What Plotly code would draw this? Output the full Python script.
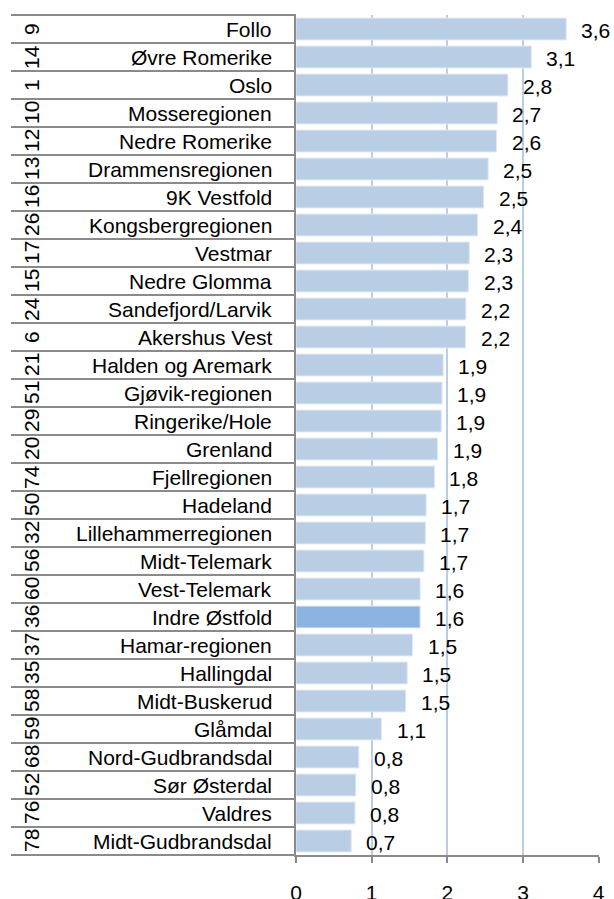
import plotly.graph_objects as go

regions = ["Follo", "Øvre Romerike", "Oslo", "Mosseregionen", "Nedre Romerike",
           "Drammensregionen", "9K Vestfold", "Kongsbergregionen", "Vestmar", "Nedre Glomma",
           "Sandefjord/Larvik", "Akershus Vest", "Halden og Aremark", "Gjøvik-regionen",
           "Ringerike/Hole", "Grenland", "Fjellregionen", "Hadeland", "Lillehammerregionen",
           "Midt-Telemark", "Vest-Telemark", "Indre Østfold", "Hamar-regionen", "Hallingdal",
           "Midt-Buskerud", "Glåmdal", "Nord-Gudbrandsdal", "Sør Østerdal", "Valdres",
           "Midt-Gudbrandsdal"]
ranks = ["9", "14", "1", "10", "12", "13", "16", "26", "17", "15", "24", "6", "21", "51", "29",
         "20", "74", "50", "32", "56", "60", "36", "37", "35", "58", "59", "68", "52", "76", "78"]
values = [3.57, 3.11, 2.80, 2.66, 2.65, 2.54, 2.48, 2.40, 2.29, 2.28, 2.245, 2.24, 1.945, 1.93,
          1.92, 1.87, 1.83, 1.72, 1.71, 1.69, 1.64, 1.64, 1.54, 1.47, 1.45, 1.13, 0.83, 0.79,
          0.78, 0.73]
value_labels = ["3,6", "3,1", "2,8", "2,7", "2,6", "2,5", "2,5", "2,4", "2,3", "2,3", "2,2", "2,2",
                "1,9", "1,9", "1,9", "1,9", "1,8", "1,7", "1,7", "1,7", "1,6", "1,6", "1,5", "1,5",
                "1,5", "1,1", "0,8", "0,8", "0,8", "0,7"]
highlight = "Indre Østfold"
x_ticks = [0, 1, 2, 3, 4]

W, H = 614, 899
ML, MR, MT, MB = 296, 15, 15, 44
plot_w = W - ML - MR
n = len(regions)
FONT = "Liberation Sans, Arial, sans-serif"
GRAY = "#8a8a8a"

ypos = list(range(n))
colors = ["#8DB3E2" if r == highlight else "#B9CDE5" for r in regions]

fig = go.Figure()
fig.add_trace(go.Bar(
    x=values, y=ypos, orientation="h", width=0.78,
    marker=dict(color=colors, line=dict(color="#dfe8f3", width=1)),
    hoverinfo="skip", showlegend=False,
))

annotations = []
for i, (r, rk, v, lab) in enumerate(zip(regions, ranks, values, value_labels)):
    annotations.append(dict(x=0, y=i, xref="x", yref="y", text=r, showarrow=False,
                            xanchor="right", yanchor="middle", xshift=-22,
                            font=dict(family=FONT, size=21, color="#000")))
    annotations.append(dict(x=0, y=i, xref="paper", yref="y", text=rk, showarrow=False,
                            xanchor="center", yanchor="middle", xshift=-(ML - 31),
                            textangle=-90, font=dict(family=FONT, size=21, color="#000")))
    annotations.append(dict(x=v, y=i, xref="x", yref="y", text=lab, showarrow=False,
                            xanchor="left", yanchor="middle", xshift=13, yshift=-1,
                            font=dict(family=FONT, size=21, color="#000")))

left_x = -(ML - 11) / plot_w
shapes = []
for k in range(n + 1):
    yk = 1 - k / n
    shapes.append(dict(type="line", xref="paper", yref="paper", x0=left_x, x1=0,
                       y0=yk, y1=yk, line=dict(color=GRAY, width=2)))

fig.update_layout(
    width=W, height=H,
    margin=dict(l=ML, r=MR, t=MT, b=MB),
    plot_bgcolor="white", paper_bgcolor="white",
    bargap=0.22,
    annotations=annotations, shapes=shapes,
    xaxis=dict(range=[0, 4.004], tickvals=x_ticks, ticktext=[str(t) for t in x_ticks],
               showgrid=True, gridcolor="#B9CDE5", gridwidth=2, zeroline=False,
               showline=True, linecolor=GRAY, linewidth=2,
               ticks="outside", ticklen=6, tickwidth=1.5, tickcolor=GRAY,
               ticklabelstandoff=12, automargin=False,
               tickfont=dict(family=FONT, size=21, color="#000")),
    yaxis=dict(range=[n - 0.5, -0.5], showticklabels=False, showgrid=False, zeroline=False,
               showline=True, linecolor=GRAY, linewidth=2, ticks="", automargin=False),
)

fig.write_html("out.html", config={"displayModeBar": False},
               post_script="document.body.style.margin='0';document.body.style.overflow='hidden';")
